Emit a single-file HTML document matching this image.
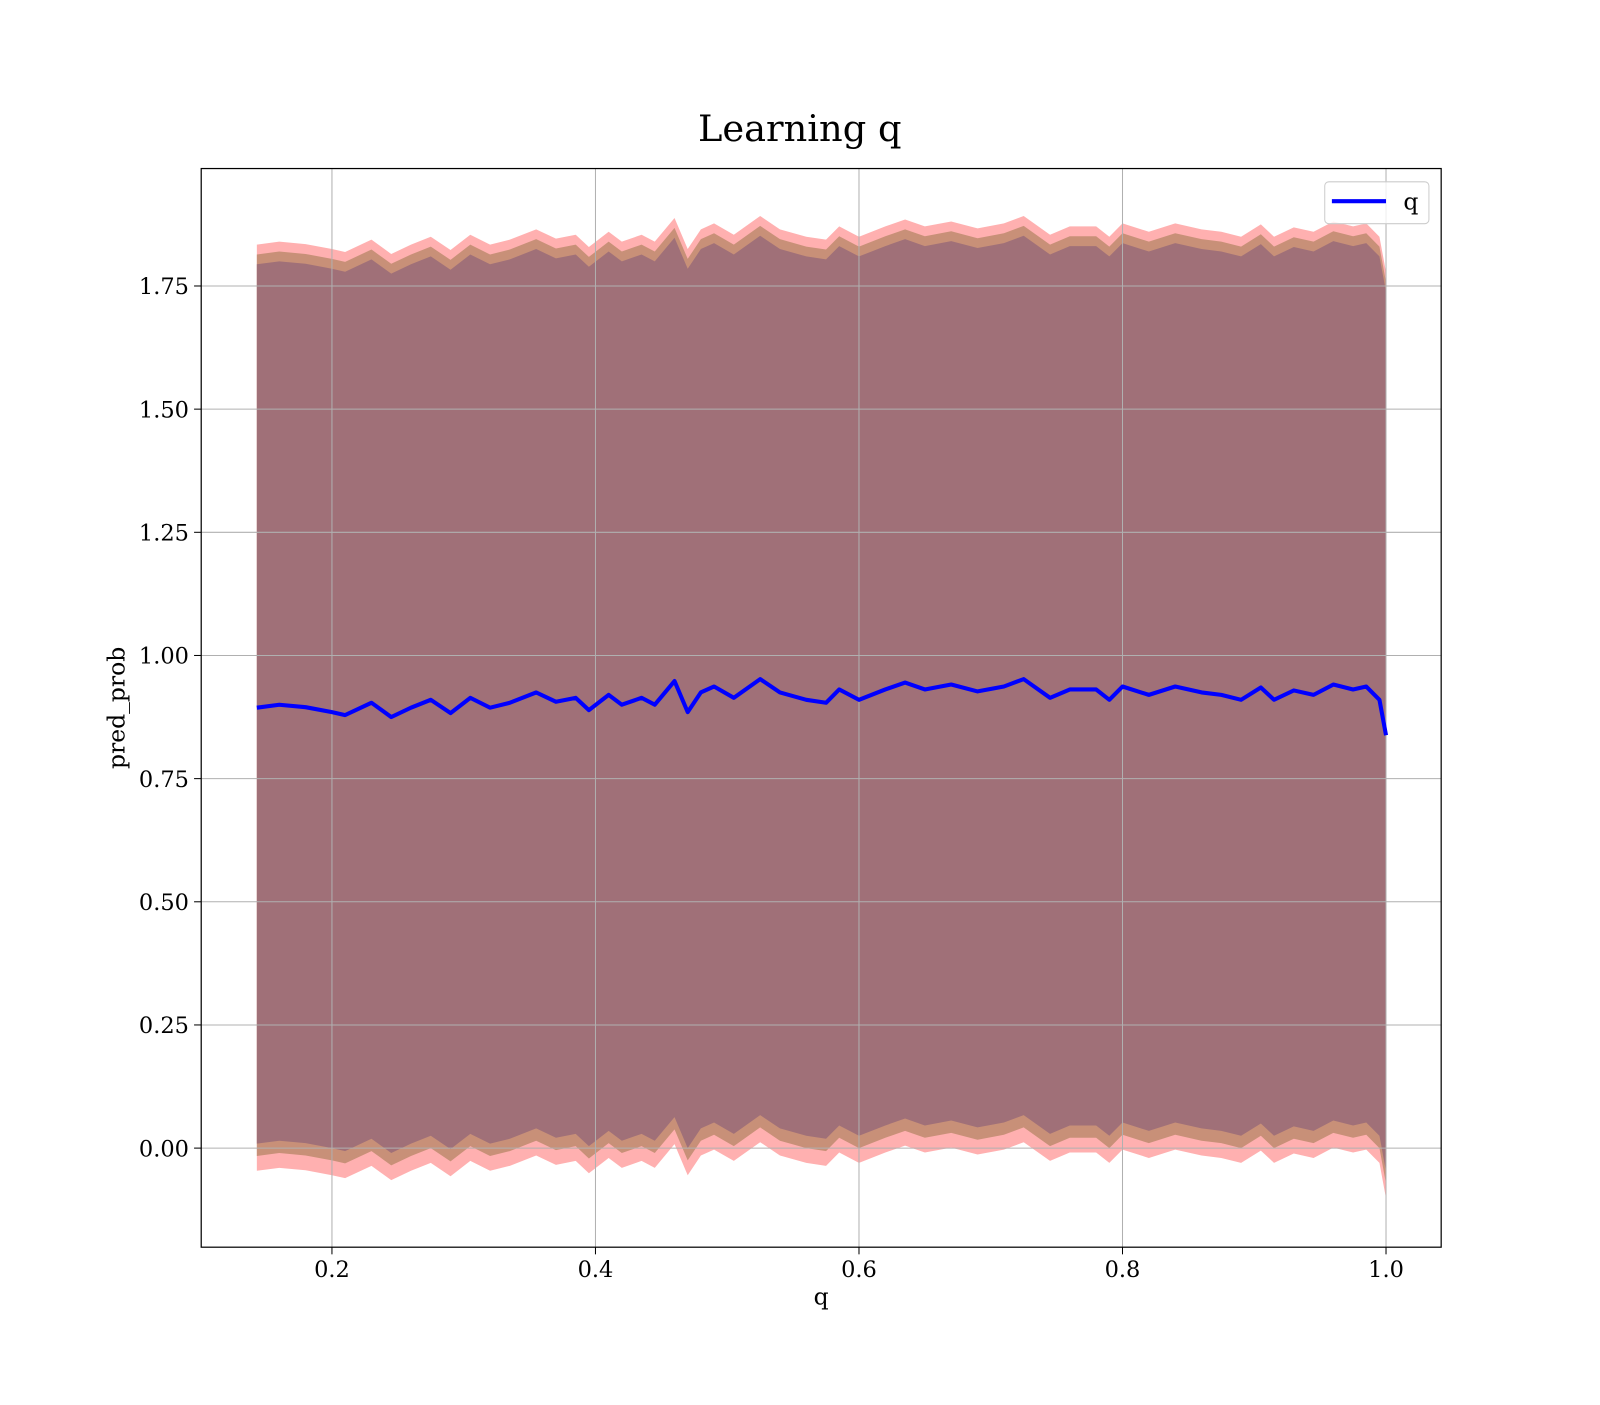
<!DOCTYPE html>
<html><head><meta charset="utf-8"><style>
body{margin:0;background:#fff}
svg text{font-family:"DejaVu Serif","Liberation Serif",serif;fill:#000}
</style></head><body>
<svg id="chart" width="1600" height="1400" viewBox="0 0 1566.5 1370.6" preserveAspectRatio="none" xmlns="http://www.w3.org/2000/svg">
<rect width="1600" height="1400" fill="#fff"/>
<text x="783" y="138" font-size="36" text-anchor="middle">Learning q</text>
<g id="bands"></g>
<g id="grid"></g>
<g id="series"></g>
<rect x="197" y="165" width="1214" height="1056" fill="none" stroke="#000" stroke-width="1.2"/>
<g id="ticks"></g>
<text x="804" y="1277" font-size="23" text-anchor="middle">q</text>
<text transform="translate(122,693) rotate(-90)" font-size="23" text-anchor="middle">pred_prob</text>
<g>
<rect x="1297" y="178" width="102" height="41" rx="4" fill="#fff" fill-opacity="0.8" stroke="#ccc"/>
<line x1="1304" y1="197" x2="1357" y2="197" stroke="#0000ff" stroke-width="4"/>
<text x="1374" y="205" font-size="23">q</text>
</g>
</svg>
<script>
const xs=[0.143,0.16,0.18,0.20,0.21,0.23,0.245,0.26,0.275,0.29,0.305,0.32,0.335,0.355,0.37,0.385,0.395,0.41,0.42,0.435,0.445,0.46,0.47,0.48,0.49,0.505,0.525,0.54,0.56,0.575,0.585,0.60,0.62,0.635,0.65,0.67,0.69,0.71,0.725,0.745,0.76,0.78,0.79,0.80,0.82,0.84,0.86,0.875,0.89,0.905,0.915,0.93,0.945,0.96,0.975,0.985,0.995,1.0];
const means=[0.894,0.90,0.895,0.885,0.879,0.904,0.875,0.894,0.91,0.883,0.914,0.894,0.904,0.925,0.906,0.914,0.889,0.92,0.90,0.914,0.90,0.948,0.885,0.925,0.937,0.914,0.952,0.925,0.91,0.904,0.931,0.91,0.931,0.945,0.931,0.941,0.927,0.937,0.952,0.914,0.931,0.931,0.91,0.937,0.92,0.937,0.925,0.92,0.91,0.935,0.91,0.929,0.92,0.941,0.931,0.937,0.91,0.838];
const outerSpread=[0.94,0.94];
const midSpread=[0.92,0.91];
const innerSpread=[0.9,0.885];
const xTicks=[0.2,0.4,0.6,0.8,1.0];
const xTickLabels=["0.2","0.4","0.6","0.8","1.0"];
const yTicks=[0,0.25,0.5,0.75,1.0,1.25,1.5,1.75];
const yTickLabels=["0.00","0.25","0.50","0.75","1.00","1.25","1.50","1.75"];
const X=v=>67+1290*v, Y=v=>1124-482.3*v;
const NS="http://www.w3.org/2000/svg";
function mk(t,p,a){const e=document.createElementNS(NS,t);for(const k in a)e.setAttribute(k,a[k]);document.getElementById(p).appendChild(e);return e;}
function band(sp){let up=xs.map((x,i)=>X(x)+","+Y(means[i]+sp[0]));let dn=xs.map((x,i)=>X(x)+","+Y(means[i]-sp[1])).reverse();return up.concat(dn).join(" ");}
let b1=mk("polygon","bands",{points:band(outerSpread),fill:"#ffb0b0"});


let b2=mk("polygon","bands",{points:band(midSpread),fill:"#c89078"});


let b3=mk("polygon","bands",{points:band(innerSpread),fill:"#a07078"});


xTicks.forEach((v,i)=>{
let g=mk("line","grid",{x1:X(v),x2:X(v),y1:165,y2:1221,stroke:"#b0b0b0","stroke-width":1});


let t=mk("line","ticks",{x1:X(v),x2:X(v),y1:1221,y2:1228,stroke:"#000"});


let l=mk("text","ticks",{x:X(v),y:1250,"font-size":22,"text-anchor":"middle"});l.textContent=xTickLabels[i];


});
yTicks.forEach((v,i)=>{
let g=mk("line","grid",{x1:197,x2:1411,y1:Y(v),y2:Y(v),stroke:"#b0b0b0","stroke-width":1});


let t=mk("line","ticks",{x1:190,x2:197,y1:Y(v),y2:Y(v),stroke:"#000"});


let l=mk("text","ticks",{x:185,y:Y(v)+8,"font-size":22,"text-anchor":"end"});l.textContent=yTickLabels[i];


});
let ln=mk("polyline","series",{points:xs.map((x,i)=>X(x)+","+Y(means[i])).join(" "),fill:"none",stroke:"#0000ff","stroke-width":4,"stroke-linejoin":"round"});


</script>
</body></html>
